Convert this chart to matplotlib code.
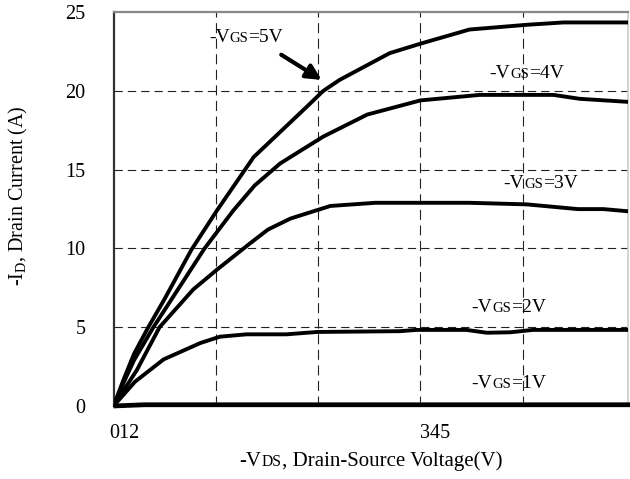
import matplotlib
matplotlib.use("Agg")
import matplotlib.pyplot as plt
from matplotlib.offsetbox import TextArea, HPacker, AnnotationBbox
from matplotlib.ticker import MultipleLocator

plt.rcParams['font.family'] = ['Liberation Serif', 'DejaVu Serif']
plt.rcParams['mathtext.fontset'] = 'custom'
plt.rcParams['mathtext.rm'] = 'Liberation Serif'

# ---- data ----
x5 = [0, 0.1, 0.2, 0.34, 0.5, 0.76, 0.94, 1.01, 1.37, 1.89, 2.05, 2.21, 2.70, 3.0, 3.48, 4.04, 4.40, 5.05]
y5 = [0, 1.7, 3.3, 5.0, 6.8, 9.9, 11.7, 12.4, 15.8, 19.0, 20.0, 20.7, 22.4, 23.0, 23.9, 24.2, 24.35, 24.35]

x4 = [0, 0.1, 0.2, 0.39, 0.6, 0.89, 1.17, 1.38, 1.63, 2.05, 2.48, 3.0, 3.58, 4.30, 4.56, 5.05]
y4 = [0, 1.5, 2.9, 5.0, 7.1, 10.0, 12.4, 14.0, 15.4, 17.1, 18.5, 19.4, 19.75, 19.75, 19.5, 19.3]

x3 = [0, 0.23, 0.45, 0.78, 1.02, 1.33, 1.51, 1.73, 2.12, 2.56, 3.03, 3.48, 4.04, 4.54, 4.79, 5.05]
y3 = [0, 2.3, 5.0, 7.4, 8.7, 10.3, 11.2, 11.9, 12.7, 12.9, 12.9, 12.9, 12.8, 12.5, 12.5, 12.35]

x2 = [0, 0.21, 0.49, 0.85, 1.04, 1.30, 1.69, 1.99, 2.80, 2.96, 3.45, 3.65, 3.88, 4.10, 5.05]
y2 = [0, 1.54, 2.96, 4.0, 4.4, 4.55, 4.55, 4.7, 4.75, 4.83, 4.83, 4.65, 4.68, 4.83, 4.83]

x1 = [0, 0.3, 5.05]
y1 = [0, 0.08, 0.08]

curves = [(x1, y1, 'GS', '=1V'), (x2, y2, 'GS', '=2V'), (x3, y3, 'GS', '=3V'),
          (x4, y4, 'GS', '=4V'), (x5, y5, 'GS', '=5V')]

xtick_pos = [0.11, 3.14]
xtick_labels = ['012', '345']
ytick_vals = [0, 5, 10, 15, 20, 25]

W, H = 630, 479
fig = plt.figure(figsize=(W / 100, H / 100), dpi=100)
ax = fig.add_axes([113.5 / W, 1 - 406 / H, (628 - 113.5) / W, (406 - 12.2) / H])
ax.set_xlim(0, 5.03)
ax.set_ylim(0, 25)

# grid
for gx in [1, 2, 3, 4]:
    ax.axvline(gx, color='#222222', lw=0.8, ls=(0, (9, 5)), zorder=1)
for gy in [5, 10, 15, 20]:
    ax.axhline(gy, color='#222222', lw=0.8, ls=(0, (7.5, 4.5)), zorder=1)

for i, (xs, ys, sub, post) in enumerate(curves):
    ax.plot(xs, ys, color='black', lw=3.4 if i == 0 else 2.8, solid_joinstyle='round',
            solid_capstyle='butt', zorder=3, clip_on=False if i == 0 else True)

# ticks
ax.set_xticks(xtick_pos)
ax.set_xticklabels(xtick_labels)
ax.set_yticks(ytick_vals)
ax.tick_params(axis='both', which='major', length=0, labelsize=14.5)
ax.tick_params(axis='x', pad=13)
ax.tick_params(axis='y', pad=20)
ax.xaxis.set_minor_locator(MultipleLocator(0.5))
ax.tick_params(axis='x', which='minor', direction='in', length=3, color='#999999', width=0.8)

ax.spines['top'].set_color('#888888')
ax.spines['top'].set_linewidth(1.6)
ax.spines['right'].set_color('#cccccc')
ax.spines['right'].set_linewidth(1.2)
ax.spines['left'].set_color('#333333')
ax.spines['left'].set_linewidth(1.6)
ax.spines['bottom'].set_color('black')
ax.spines['bottom'].set_linewidth(1.5)


def sub_label(pre, sub, post, px, py, size=14):
    parts = [TextArea(pre, textprops=dict(size=size, family='Liberation Serif')),
             TextArea(sub, textprops=dict(size=size * 0.75, family='Liberation Serif')),
             TextArea(post, textprops=dict(size=size, family='Liberation Serif'))]
    box = HPacker(children=parts, align='baseline', pad=0, sep=0)
    ab = AnnotationBbox(box, (px, H - py), xycoords='figure pixels', frameon=False,
                        box_alignment=(0.5, 0.5), pad=0)
    fig.add_artist(ab)


label_pos = {'=5V': (246, 38), '=4V': (527, 74), '=3V': (541, 183),
             '=2V': (509, 308), '=1V': (509, 383)}
for xs, ys, sub, post in curves:
    px, py = label_pos[post]
    sub_label('-V', sub, post, px, py)

# arrow to the 5V curve
ax.annotate('', xy=(2.035, 20.7), xytext=(1.64, 22.3),
            arrowprops=dict(arrowstyle='-|>,head_length=0.9,head_width=0.45',
                            lw=3, color='black', shrinkA=0, shrinkB=0))

# axis labels
sub_label('-V', 'DS', ', Drain-Source Voltage(V)', 371, 461, size=15)
fig.text(18 / W, 1 - 196 / H, r'-I$_{\mathrm{D}}$, Drain Current (A)', rotation=90,
         ha='center', va='center', fontsize=14.5)

fig.savefig('out.png', dpi=100)
